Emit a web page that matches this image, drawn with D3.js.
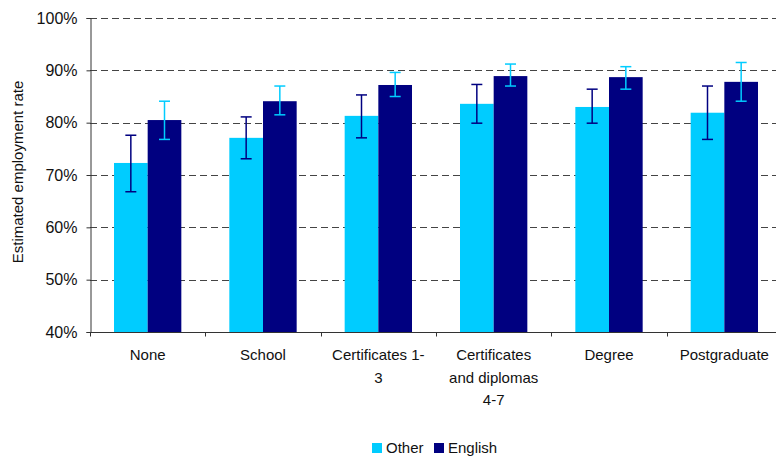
<!DOCTYPE html>
<html>
<head>
<meta charset="utf-8">
<script src="https://cdn.jsdelivr.net/npm/d3@7"></script>
<style>
body { margin: 0; background: #fff; }
svg text { font-family: "Liberation Sans", Arial, sans-serif; fill: #111; }
</style>
</head>
<body>
<script>
// categories (label lines kept as shown in the chart)
var categories = ["None", "School", "Certificates 1-3", "Certificates and diplomas 4-7", "Degree", "Postgraduate"];
var categoryLines = [["None"], ["School"], ["Certificates 1-", "3"], ["Certificates", "and diplomas", "4-7"], ["Degree"], ["Postgraduate"]];
var seriesNames = ["Other", "English"];

// estimated employment rate (%) and confidence interval
var otherValues = [72.3, 77.1, 81.3, 83.6, 83.0, 81.9];
var otherLow    = [66.8, 73.1, 77.1, 79.9, 79.9, 76.8];
var otherHigh   = [77.6, 81.1, 85.3, 87.3, 86.4, 87.0];
var englishValues = [80.5, 84.1, 87.2, 88.9, 88.7, 87.8];
var englishLow    = [76.8, 81.5, 85.0, 87.0, 86.4, 84.1];
var englishHigh   = [84.1, 87.0, 89.6, 91.2, 90.7, 91.5];
var yTicks = [40, 50, 60, 70, 80, 90, 100];

var width = 776, height = 459;
var plotLeft = 90, plotTop = 18, plotBottom = 332, plotRight = 782;
var colors = { Other: "#00ccff", English: "#000080" };
var errColors = { Other: "#000080", English: "#00ccff" };

var svg = d3.select("body").append("svg")
    .attr("width", width)
    .attr("height", height);

var x = d3.scaleBand().domain(categories).range([plotLeft, plotRight]).paddingInner(0).paddingOuter(0);
var inner = d3.scaleBand().domain(seriesNames).range([24, x.bandwidth() - 24]);
var y = d3.scaleLinear().domain([40, 100]).range([plotBottom, plotTop]);

// gridlines
svg.append("g").selectAll("line")
    .data(yTicks.filter(function(d) { return d > 40; }))
    .enter().append("line")
    .attr("x1", plotLeft).attr("x2", width)
    .attr("y1", function(d) { return Math.round(y(d)) + 0.5; })
    .attr("y2", function(d) { return Math.round(y(d)) + 0.5; })
    .attr("stroke", "#444")
    .attr("stroke-width", 1)
    .attr("stroke-dasharray", "7,4");

var data = categories.map(function(c, i) {
    return [
        { cat: c, s: "Other", v: otherValues[i], lo: otherLow[i], hi: otherHigh[i] },
        { cat: c, s: "English", v: englishValues[i], lo: englishLow[i], hi: englishHigh[i] }
    ];
});

var groups = svg.append("g").selectAll("g")
    .data(data)
    .enter().append("g")
    .attr("transform", function(d, i) { return "translate(" + x(categories[i]) + ",0)"; });

groups.selectAll("rect")
    .data(function(d) { return d; })
    .enter().append("rect")
    .attr("x", function(d) { return inner(d.s); })
    .attr("width", inner.bandwidth())
    .attr("y", function(d) { return y(d.v); })
    .attr("height", function(d) { return y(40) - y(d.v); })
    .attr("fill", function(d) { return colors[d.s]; });

// error bars
var err = groups.selectAll("g.err")
    .data(function(d) { return d; })
    .enter().append("g")
    .attr("class", "err")
    .attr("stroke", function(d) { return errColors[d.s]; })
    .attr("stroke-width", 1.5);

err.append("line")
    .attr("x1", function(d) { return inner(d.s) + inner.bandwidth() / 2; })
    .attr("x2", function(d) { return inner(d.s) + inner.bandwidth() / 2; })
    .attr("y1", function(d) { return y(d.hi); })
    .attr("y2", function(d) { return y(d.lo); });
["hi", "lo"].forEach(function(k) {
    err.append("line")
        .attr("x1", function(d) { return inner(d.s) + inner.bandwidth() / 2 - 5.5; })
        .attr("x2", function(d) { return inner(d.s) + inner.bandwidth() / 2 + 5.5; })
        .attr("y1", function(d) { return y(d[k]); })
        .attr("y2", function(d) { return y(d[k]); });
});

// y axis
var yAxis = svg.append("g")
    .attr("transform", "translate(" + (plotLeft + 0.5) + ",0)")
    .call(d3.axisLeft(y).tickValues(yTicks).tickSize(4).tickPadding(9)
        .tickFormat(function(d) { return d + "%"; }));
yAxis.select(".domain").attr("stroke", "#333");
yAxis.selectAll(".tick line").attr("stroke", "#333");
yAxis.selectAll("text").style("font-size", "16px").attr("fill", "#111");

// x axis
var xAxisG = svg.append("g").attr("transform", "translate(0," + (plotBottom + 0.5) + ")");
xAxisG.append("line").attr("x1", plotLeft).attr("x2", width).attr("stroke", "#333");
xAxisG.selectAll("line.tick")
    .data(categories)
    .enter().append("line")
    .attr("class", "tick")
    .attr("x1", function(d) { return Math.round(x(d)) + 0.5; })
    .attr("x2", function(d) { return Math.round(x(d)) + 0.5; })
    .attr("y1", 0).attr("y2", 4)
    .attr("stroke", "#333");

var labels = svg.append("g").selectAll("text")
    .data(categories)
    .enter().append("text")
    .attr("text-anchor", "middle")
    .style("font-size", "15px")
    .attr("x", function(d) { return x(d) + x.bandwidth() / 2; })
    .attr("y", 360);
labels.each(function(d, i) {
    var t = d3.select(this);
    categoryLines[i].forEach(function(line, j) {
        t.append("tspan")
            .attr("x", x(d) + x.bandwidth() / 2)
            .attr("dy", j === 0 ? 0 : 22.5)
            .text(line);
    });
});

// y axis title
svg.append("text")
    .attr("transform", "translate(23," + ((plotTop + plotBottom) / 2 - 3) + ") rotate(-90)")
    .attr("text-anchor", "middle")
    .style("font-size", "15px")
    .text("Estimated employment rate");

// legend
var legend = svg.append("g").attr("transform", "translate(372,443)");
var legendX = [0, 62];
seriesNames.forEach(function(s, i) {
    legend.append("rect")
        .attr("x", legendX[i]).attr("y", 0)
        .attr("width", 10).attr("height", 10)
        .attr("fill", colors[s]);
    legend.append("text")
        .attr("x", legendX[i] + 14).attr("y", 10)
        .style("font-size", "15px")
        .text(s);
});
</script>
</body>
</html>
